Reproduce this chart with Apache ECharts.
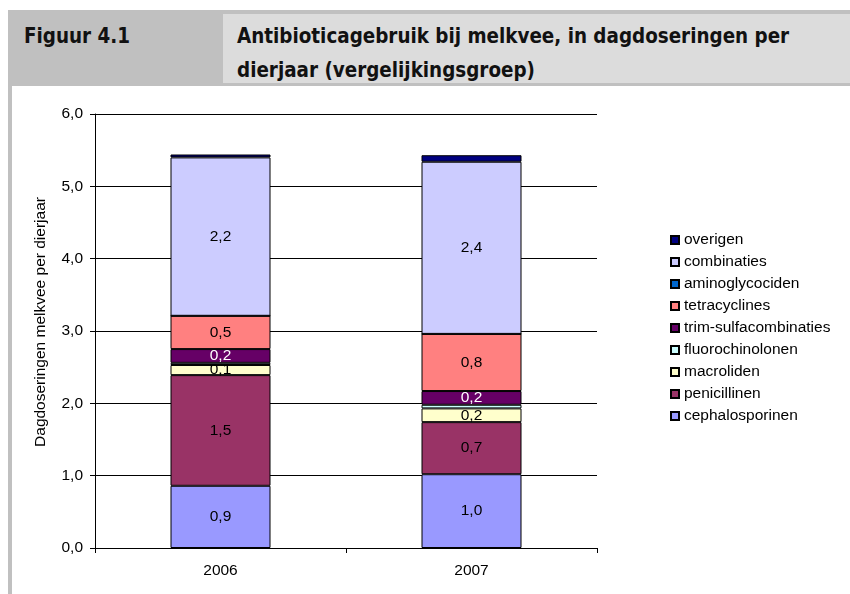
<!DOCTYPE html>
<html>
<head>
<meta charset="utf-8">
<script src="https://cdn.jsdelivr.net/npm/echarts@6/dist/echarts.min.js"></script>
<style>
  html, body { margin: 0; padding: 0; background: #fff; }
  #chart { position: absolute; left: 0; top: 0; width: 850px; height: 594px; }
  .head { position: absolute; left: 8px; top: 10px; width: 842px; height: 76px; background: #c0c0c0; z-index: 2; }
  .head-cell { position: absolute; left: 215px; top: 4px; right: 0; height: 69px; background: #dcdcdc; }
  .head-text { position: absolute; font-family: "Liberation Sans Narrow", "DejaVu Sans Condensed", sans-serif;
    font-weight: bold; font-size: 20.4px; line-height: 34px; color: #111; }
  .stripe { position: absolute; left: 8px; top: 86px; width: 4px; height: 508px; background: #c0c0c0; z-index: 2; }
</style>
</head>
<body>
<div id="chart"></div>
<div class="head">
  <div class="head-cell"></div>
  <div class="head-text" style="left:16px; top:9px;">Figuur 4.1</div>
  <div class="head-text" style="left:229px; top:9px;">Antibioticagebruik bij melkvee, in dagdoseringen per<br>dierjaar (vergelijkingsgroep)</div>
</div>
<div class="stripe"></div>
<script>
// data (dagdoseringen per dierjaar)
const years = ['2006', '2007']
const cephalosporinen = [0.86, 1.02]
const penicillinen = [1.53, 0.72]
const macroliden = [0.14, 0.19]
const fluorochinolonen = [0.03, 0.05]
const trimSulfacombinaties = [0.19, 0.19]
const tetracyclines = [0.46, 0.79]
const aminoglycociden = [0, 0]
const combinaties = [2.19, 2.38]
const overigen = [0.04, 0.09]
const yTicks = [0, 1, 2, 3, 4, 5, 6]

// stacking order, bottom to top
const stackOrder = [
  { name: 'cephalosporinen', data: cephalosporinen, color: '#9999ff', label: true },
  { name: 'penicillinen', data: penicillinen, color: '#993366', label: true },
  { name: 'macroliden', data: macroliden, color: '#ffffcc', label: true },
  { name: 'fluorochinolonen', data: fluorochinolonen, color: '#ccffff', label: false },
  { name: 'trim-sulfacombinaties', data: trimSulfacombinaties, color: '#660066', label: true, labelColor: '#fff' },
  { name: 'tetracyclines', data: tetracyclines, color: '#ff8080', label: true },
  { name: 'aminoglycociden', data: aminoglycociden, color: '#0066cc', label: false },
  { name: 'combinaties', data: combinaties, color: '#ccccff', label: true },
  { name: 'overigen', data: overigen, color: '#000080', label: false },
]

const fmt = v => v.toFixed(1).replace('.', ',')
const font = '"Liberation Sans", Arial, sans-serif'
const fs = 15.5

const chart = echarts.init(document.getElementById('chart'))
chart.setOption({
  backgroundColor: '#fff',
  animation: false,
  textStyle: { fontFamily: font, color: '#000' },
  grid: { left: 95, right: 253, top: 114, bottom: 46 },
  legend: {
    orient: 'vertical',
    left: 670,
    top: 232,
    padding: 0,
    itemWidth: 8,
    itemHeight: 8,
    itemGap: 6,
    icon: 'rect',
    textStyle: { fontSize: fs, color: '#000', fontFamily: font, lineHeight: 16 },
    data: stackOrder.map(s => s.name).reverse(),
  },
  xAxis: {
    type: 'category',
    data: years,
    axisLine: { lineStyle: { color: '#000' } },
    axisTick: { show: true, interval: 0, length: 5, lineStyle: { color: '#000' } },
    axisLabel: { fontSize: fs, color: '#000', margin: 15 },
  },
  yAxis: {
    type: 'value',
    min: yTicks[0],
    max: yTicks[yTicks.length - 1],
    interval: 1,
    name: 'Dagdoseringen melkvee per dierjaar',
    nameLocation: 'middle',
    nameRotate: 90,
    nameGap: 46,
    nameTextStyle: { fontSize: fs, color: '#000', padding: [0, 0, 0, 18] },
    axisLine: { show: true, lineStyle: { color: '#000' } },
    axisTick: { show: true, length: 5, lineStyle: { color: '#000' } },
    axisLabel: { fontSize: fs, color: '#000', margin: 12, formatter: fmt },
    splitLine: { lineStyle: { color: '#000', width: 1 } },
  },
  series: stackOrder.map(s => ({
    name: s.name,
    type: 'bar',
    stack: 'total',
    barWidth: 100,
    data: s.data,
    itemStyle: { color: s.color, borderColor: '#000', borderWidth: 1 },
    label: {
      show: s.label,
      position: 'inside',
      fontSize: fs,
      fontFamily: font,
      color: s.labelColor || '#000',
      formatter: p => fmt(p.value),
    },
  })),
})
</script>
</body>
</html>
